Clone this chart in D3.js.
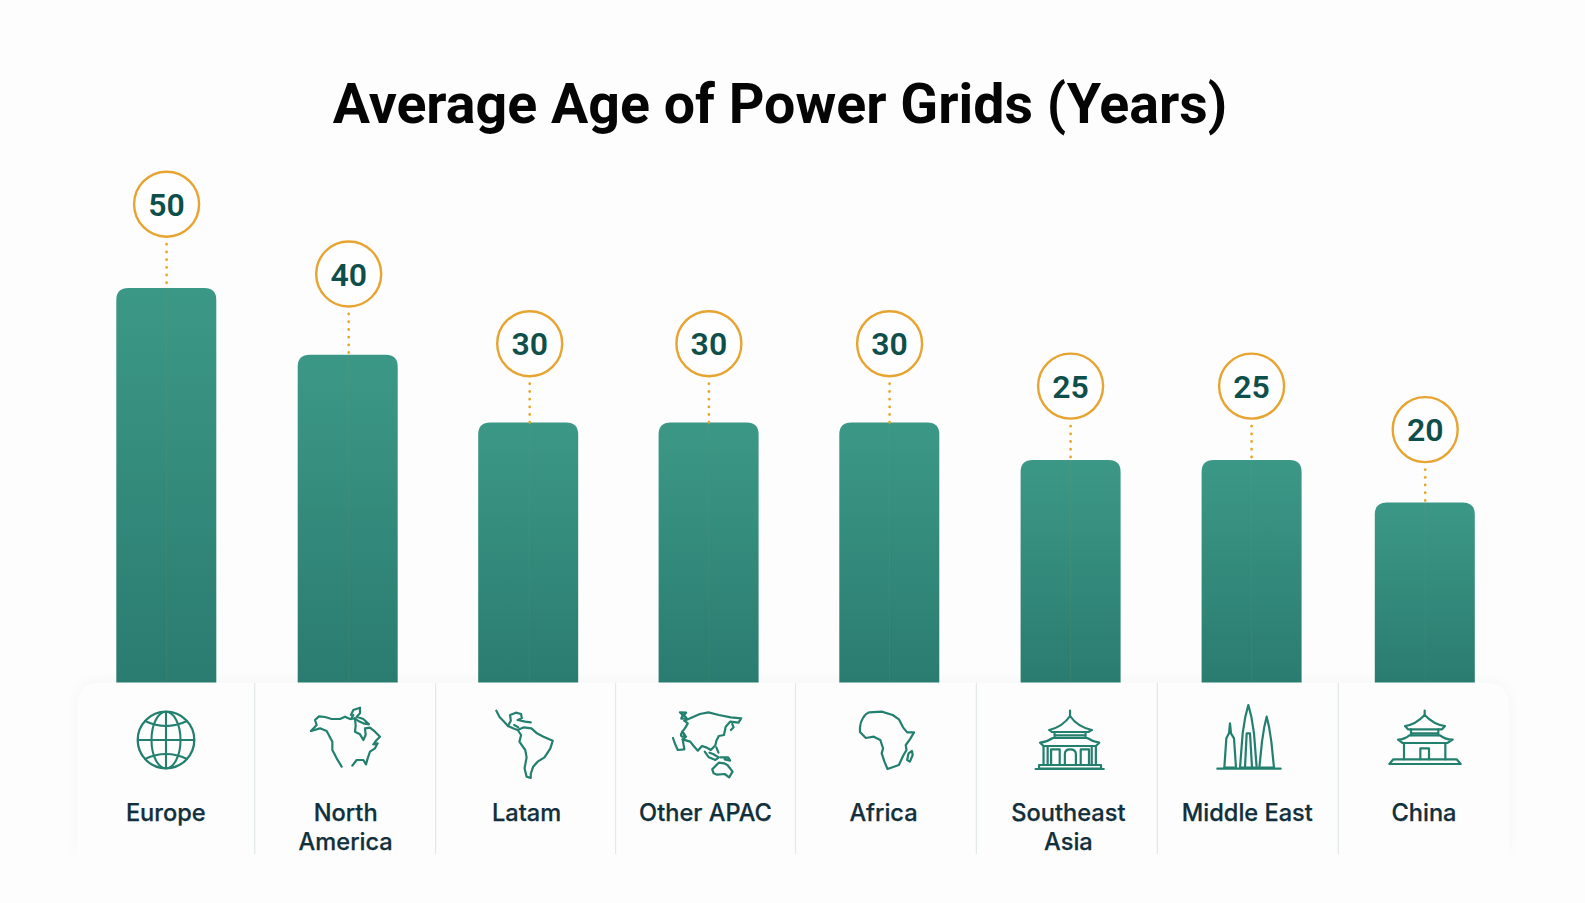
<!DOCTYPE html>
<html><head><meta charset="utf-8">
<script src="https://cdn.jsdelivr.net/npm/d3@7"></script>
<style>html,body{margin:0;padding:0;background:#fdfdfd}svg{display:block}</style>
</head><body><svg id="c" width="1585" height="903"></svg>
<script>
const regions = ["Europe","North America","Latam","Other APAC","Africa","Southeast Asia","Middle East","China"];
const ages = [50,40,30,30,30,25,25,20];
const labelLines = [["Europe"],["North","America"],["Latam"],["Other APAC"],["Africa"],["Southeast","Asia"],["Middle East"],["China"]];
const chartTitle = "Average Age of Power Grids (Years)";

const W=1585,H=903,baseY=682.5;
const svg=d3.select("#c");
const defs=svg.append("defs");
const g=defs.append("linearGradient").attr("id","bar").attr("x1",0).attr("x2",0).attr("y1",0).attr("y2",1);
g.append("stop").attr("offset",0).attr("stop-color","#3c9886");
g.append("stop").attr("offset",1).attr("stop-color","#2a7c70");
const f=defs.append("filter").attr("id","sh").attr("x","-5%").attr("y","-15%").attr("width","110%").attr("height","130%");
f.append("feDropShadow").attr("dx",0).attr("dy",-1).attr("stdDeviation",5).attr("flood-color","#5a7a78").attr("flood-opacity",0.07);
const fade=defs.append("linearGradient").attr("id","fade").attr("x1",0).attr("x2",0).attr("y1",0).attr("y2",1);
fade.append("stop").attr("offset",0).attr("stop-color","#fdfdfd").attr("stop-opacity",0);
fade.append("stop").attr("offset",1).attr("stop-color","#fdfdfd").attr("stop-opacity",1);

const x=d3.scaleOrdinal().domain(regions).range([166.3,347.7,528.2,708.6,889.3,1070.6,1251.6,1424.8]);
const bubbleX=d3.scaleOrdinal().domain(regions).range([166.6,348.7,529.7,708.9,889.6,1070.6,1251.6,1425.2]);
const labelX=d3.scaleOrdinal().domain(regions).range([165.8,345.7,526.6,705.5,883.5,1068.4,1247.3,1424]);
const y=d3.scaleLinear().domain([0,20,25,30,40,50]).range([baseY,502.4,460,422.5,354.8,288]);
const bubbleY=d3.scaleLinear().domain([20,25,30,40,50]).range([429.6,386.1,343.7,274,204.2]);
const barW=100,r=12;

svg.append("rect").attr("width",W).attr("height",H).attr("fill","#fdfdfd");

svg.append("text").attr("x",780).attr("y",123).attr("text-anchor","middle")
 .attr("font-family","Roboto").attr("font-weight",700).attr("font-size",55.5).attr("fill","#050505").text(chartTitle);

// panel
svg.append("path").attr("d",`M77,858V708Q77,682.5 102,682.5H1484Q1509,682.5 1509,708V858Z`)
 .attr("fill","#fdfdfd").attr("filter","url(#sh)");
svg.append("rect").attr("x",60).attr("y",835).attr("width",1470).attr("height",40).attr("fill","url(#fade)");

const dividers=[254.7,435.6,615.6,795.5,976.4,1157.4,1338.3];
svg.append("g").selectAll("line").data(dividers).join("line")
 .attr("x1",d=>d).attr("x2",d=>d).attr("y1",683).attr("y2",854).attr("stroke","#e3e9ea").attr("stroke-width",1.2);

const data=regions.map((name,i)=>({name,age:ages[i],lines:labelLines[i]}));
const rows=svg.append("g").selectAll("g").data(data).join("g");
rows.append("path").attr("fill","url(#bar)").attr("d",d=>{
  const l=x(d.name)-barW/2,t=y(d.age);
  return `M${l},${baseY}V${t+r}Q${l},${t} ${l+r},${t}H${l+barW-r}Q${l+barW},${t} ${l+barW},${t+r}V${baseY}Z`;
});
rows.append("line").attr("x1",d=>bubbleX(d.name)).attr("x2",d=>bubbleX(d.name)).attr("y1",d=>y(d.age)).attr("y2",baseY)
 .attr("stroke","#c9a24a").attr("stroke-opacity",.09).attr("stroke-width",1);
rows.append("line").attr("x1",d=>bubbleX(d.name)).attr("x2",d=>bubbleX(d.name))
 .attr("y1",d=>bubbleY(d.age)+40).attr("y2",d=>y(d.age))
 .attr("stroke","#e9a730").attr("stroke-width",2.8).attr("stroke-linecap","round").attr("stroke-dasharray","0.1 7.6");
rows.append("circle").attr("cx",d=>bubbleX(d.name)).attr("cy",d=>bubbleY(d.age)).attr("r",32.5)
 .attr("fill","#fefefe").attr("stroke","#e7a430").attr("stroke-width",2.4);
rows.append("text").attr("x",d=>bubbleX(d.name)).attr("y",d=>bubbleY(d.age)+11.5).attr("text-anchor","middle")
 .attr("font-family","Roboto").attr("font-weight",600).attr("font-size",32).attr("fill","#0f4f4b").text(d=>d.age);
rows.each(function(d){
  const t=d3.select(this).append("text").attr("text-anchor","middle").attr("font-family","Inter")
    .attr("font-weight",500).attr("font-size",23.6).attr("stroke","#11303c").attr("stroke-width",0.25).attr("fill","#11303c");
  d.lines.forEach((s,i)=>t.append("tspan").attr("x",labelX(d.name)).attr("y",821+i*29).text(s));
});

// line icons, outlined in crop coordinates
const icon=svg.append("g").attr("fill","none").attr("stroke","#23806f").attr("stroke-width",2.2)
  .attr("stroke-linejoin","round").attr("stroke-linecap","round");
function place(ox,oy,paths,sx,sy){
  const n=icon.append("g").attr("transform",`translate(${ox},${oy}) scale(${1/sx},${1/sy})`);
  paths.forEach(p=>n.append("path").attr("d",p).attr("vector-effect","non-scaling-stroke"));
}
const SX=2.904;
// globe
const gg=icon.append("g").attr("transform","translate(166,740)").attr("stroke-width",2.1);
gg.append("circle").attr("r",28.3).attr("stroke-width",2.3);
gg.append("ellipse").attr("rx",14.5).attr("ry",28.3);
gg.append("line").attr("y1",-28).attr("y2",28);
gg.append("line").attr("x1",-28).attr("x2",28);
[-1,1].forEach(s=>gg.append("path").attr("d",`M-21,${s*19}Q0,${s*9} 21,${s*19}`));

place(295,695,[
 "M48,108L65,90L60,75L72,64L90,66L110,72L135,72L150,65L165,72L180,70L182,92L180,110L195,118L205,135L212,120L210,100L225,98L240,110L255,125L245,135L235,148L248,145L240,160L225,170L218,190L213,208L205,195L185,195L172,212",
 "M48,108L75,100L95,108L112,140L112,165L125,190L140,215",
 "M168,60L175,45L195,38L195,55L185,65L205,72L222,88L205,85L190,78L180,70",
 "M168,72L175,60"
],3,3);
place(70,670,[
 "M1238,122L1248,142L1258,152L1272,168L1290,176L1300,180L1318,172L1340,175L1356,190L1375,200L1402,212L1395,235L1378,262L1358,275L1345,290L1338,312L1338,324L1326,320L1320,295L1326,262L1322,240L1305,215L1310,195L1300,180",
 "M1272,168L1280,152L1278,135L1295,128L1310,132L1312,145L1300,150L1322,155L1338,157",
 "M1290,165L1302,172"
],SX,3);
place(600,670,[
 "M245,152L262,145L290,132L315,127L345,135L380,142L410,145L402,158L378,155L365,170L360,195L345,198L338,212L335,226L322,240L308,232L296,228L284,242L272,228L262,215L240,208L245,238L226,240L218,222L212,204",
 "M245,152L255,160L246,176L238,186L250,200L240,208",
 "M232,127L250,128L244,135L252,145L236,146L240,135Z",
 "M240,188a5,6 0 1,0 0.1,0Z",
 "M384,162L388,172L380,180",
 "M338,232L344,248",
 "M304,245L316,262L335,270L345,262L328,252L318,248",
 "M350,262L372,262L378,272L362,268",
 "M326,298L345,278L360,280L370,285L385,305L375,322L362,312L340,314L330,310Z"
],SX,3);
place(600,670,[
 "M755,172C756,152 768,132 782,127L818,125L850,135L868,148L880,172L892,187L912,187L900,208L888,225L890,240L880,258L868,285L835,297L826,275L818,250L822,235L814,210L795,200L772,204L755,186Z",
 "M906,243L908,255L900,275L892,270L896,250Z"
],SX,3);
// temple with arches
place(600,670,[
 "M1365,122V140","M1305,180C1335,172 1352,158 1365,138C1378,158 1395,172 1428,180",
 "M1305,180L1312,186H1418L1428,180","M1320,190V203M1410,190V203M1320,196H1410",
 "M1278,218C1295,216 1305,211 1315,204H1415C1425,211 1435,216 1450,218L1440,228H1288Z",
 "M1288,228V285M1440,228V285M1300,232V285M1428,232V285",
 "M1310,285V238H1335V285","M1350,285V252Q1350,238 1365,238Q1382,238 1382,252V285",
 "M1396,285V238H1420V285",
 "M1275,285H1455V296H1275ZM1265,297H1463"
],SX,3);
// towers
place(1130,670,[
 "M262,296H452","M283,293L289,205L297,190L300,160L303,190L312,205L318,293",
 "M330,293L338,190L346,140L355,105L364,140L372,190L380,293M345,292L350,190H360L366,292",
 "M388,293L396,215L403,170L410,140L417,170L424,215L432,293",
 "M283,293H318M330,293H380M388,293H432"
],3,3);
// pagoda
place(1130,670,[
 "M884,122V136","M825,168C848,165 868,152 884,135C900,152 920,165 945,168L936,178H834Z",
 "M843,178V196M925,178V196M843,190H925",
 "M804,209C820,208 830,203 838,196H930C938,203 950,208 968,209L952,219H818Z",
 "M822,219V268M946,219V268",
 "M871,268V235H897V268",
 "M790,268H980L992,282H778Z"
],3,3);
</script></body></html>
